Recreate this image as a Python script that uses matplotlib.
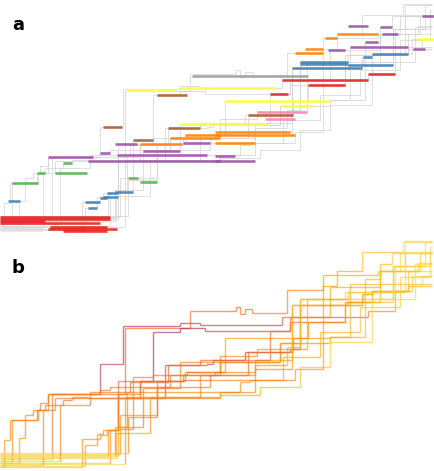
import numpy as np
import matplotlib
matplotlib.use("Agg")
import matplotlib.pyplot as plt
from matplotlib.collections import LineCollection

# Trajectories: step breakpoints (x) and plateau levels (y), pixel-like units,
# y grows downwards. Shared by both panels.
step_x = [
    [0, 52, 100, 123, 180, 200, 282, 368, 395, 412],
    [0, 110, 118, 125, 190, 236, 240, 245, 252, 287, 323, 337, 362, 403],
    [0, 43, 55, 118, 153, 180, 205, 270, 290, 308, 345, 372, 408],
    [0, 82, 100, 107, 118, 165, 207, 213, 245, 290, 300, 348, 380, 392],
    [0, 4, 10, 25, 33, 40, 48, 93, 140, 183, 215, 255, 292, 362, 372, 408],
    [0, 19, 25, 37, 45, 63, 72, 88, 220, 255, 295, 323, 337, 378, 420],
    [0, 128, 157, 185, 220, 280, 330, 350, 408],
    [0, 115, 143, 180, 225, 330, 365, 380, 418],
    [0, 85, 97, 103, 118, 133, 153, 170, 220, 257, 307, 348, 405],
    [0, 12, 38, 48, 100, 110, 170, 187, 225, 280, 300, 348, 393, 425],
    [0, 108, 118, 140, 183, 210, 248, 293, 308, 345, 363, 372, 408, 422],
    [0, 120, 128, 157, 210, 255, 292, 362, 393, 430],
    [0, 60, 90, 118, 130, 168, 200, 270, 290, 330, 380, 400],
    [0, 116, 150, 220, 260, 300, 330, 372, 415],
    [0, 118, 127, 220, 240, 250, 283, 320, 360, 400, 430],
    [0, 125, 200, 255, 287, 300, 345, 395, 405],
]
step_y = [
    [222, 157, 127, 89, 86, 88, 80, 74, 54, 39],
    [226, 193, 157, 91, 74, 70, 77, 72, 76, 53, 38, 34, 15, 4],
    [228, 173, 161, 144, 95, 91, 94, 94, 85, 85, 65, 54, 47],
    [230, 202, 198, 193, 161, 128, 127, 123, 115, 112, 68, 65, 27, 16],
    [230, 203, 183, 178, 173, 166, 157, 157, 144, 138, 135, 132, 68, 57, 54, 49],
    [226, 201, 183, 173, 168, 163, 160, 161, 155, 143, 132, 49, 38, 34, 16],
    [216, 180, 144, 135, 125, 106, 100, 47, 34],
    [218, 190, 151, 125, 101, 100, 42, 34, 26],
    [229, 208, 197, 193, 192, 140, 138, 138, 119, 112, 62, 55, 15],
    [224, 183, 173, 157, 153, 150, 138, 135, 125, 106, 62, 62, 29, 5],
    [220, 193, 161, 144, 143, 138, 115, 101, 85, 65, 57, 54, 49, 39],
    [217, 178, 178, 150, 143, 123, 68, 65, 29, 15],
    [224, 168, 155, 155, 145, 128, 123, 94, 80, 50, 34, 16],
    [221, 196, 160, 158, 150, 130, 105, 62, 27],
    [219, 190, 155, 155, 145, 143, 120, 95, 70, 40, 10],
    [227, 160, 138, 128, 110, 62, 55, 29, 5],
]
# colour value per plateau for panel b (0 = pale yellow, 1 = dark red)
step_c = [
    [0.15, 0.5, 0.85, 0.95, 0.9, 0.85, 0.65, 0.45, 0.3, 0.15],
    [0.15, 0.4, 0.5, 0.6, 0.55, 0.55, 0.55, 0.55, 0.5, 0.45, 0.35, 0.3, 0.2, 0.1],
    [0.15, 0.45, 0.5, 0.55, 1.0, 0.95, 0.8, 0.7, 0.65, 0.6, 0.4, 0.3, 0.2],
    [0.15, 0.4, 0.4, 0.45, 0.5, 0.8, 0.8, 0.85, 0.9, 0.7, 0.5, 0.4, 0.25, 0.15],
    [0.15, 0.35, 0.45, 0.45, 0.5, 0.5, 0.5, 0.5, 0.5, 0.5, 0.45, 0.45, 0.35, 0.3, 0.25, 0.2],
    [0.15, 0.35, 0.45, 0.5, 0.5, 0.5, 0.5, 0.5, 0.45, 0.45, 0.4, 0.35, 0.3, 0.25, 0.15],
    [0.1, 0.45, 0.5, 0.5, 0.45, 0.4, 0.3, 0.25, 0.15],
    [0.1, 0.45, 0.5, 0.45, 0.35, 0.3, 0.25, 0.2, 0.15],
    [0.1, 0.35, 0.4, 0.45, 0.45, 0.5, 0.5, 0.5, 0.45, 0.4, 0.3, 0.2, 0.1],
    [0.15, 0.4, 0.45, 0.5, 0.5, 0.5, 0.5, 0.5, 0.45, 0.35, 0.25, 0.2, 0.15, 0.1],
    [0.1, 0.35, 0.5, 0.55, 0.6, 0.6, 0.55, 0.45, 0.4, 0.3, 0.25, 0.2, 0.15, 0.1],
    [0.1, 0.35, 0.4, 0.5, 0.45, 0.35, 0.25, 0.2, 0.15, 0.1],
    [0.15, 0.45, 0.5, 0.5, 0.55, 0.6, 0.6, 0.55, 0.45, 0.3, 0.2, 0.1],
    [0.1, 0.3, 0.4, 0.3, 0.25, 0.2, 0.15, 0.1, 0.1],
    [0.1, 0.3, 0.45, 0.45, 0.4, 0.4, 0.3, 0.25, 0.2, 0.15, 0.1],
    [0.1, 0.4, 0.45, 0.4, 0.3, 0.2, 0.15, 0.1, 0.1],
]
x_end = 432

# Panel a: labelled stretches (colour name, x start, x end, level)
seg_color = (["red"] * 7 + ["lightgrey"] + ["blue"] * 7 + ["green"] * 6
             + ["purple"] * 17 + ["brown"] * 5 + ["orange"] * 10
             + ["yellow"] * 7 + ["pink"] * 2 + ["red"] * 4 + ["grey"]
             + ["blue"] * 6)
seg_x0 = [0, 0, 0, 48, 63, 50, 0,
          0,
          8, 85, 100, 107, 115, 88, 103,
          12, 37, 55, 63, 128, 140,
          48, 88, 115, 100, 117, 143, 183, 215, 215, 328, 350, 365, 348, 380, 382, 422, 413,
          103, 157, 168, 248, 133,
          140, 170, 185, 215, 215, 295, 305, 325, 337, 215,
          127, 180, 215, 180, 225, 280, 418,
          257, 265,
          270, 282, 368, 308,
          192,
          300, 292, 348, 363, 372, 300]
seg_x1 = [110, 110, 45, 117, 107, 107, 100,
          43,
          20, 100, 107, 118, 133, 97, 118,
          38, 45, 87, 72, 138, 157,
          93, 220, 137, 110, 207, 180, 210, 235, 255, 345, 408, 378, 368, 392, 398, 435, 425,
          122, 187, 200, 293, 153,
          182, 220, 220, 295, 255, 323, 323, 337, 378, 290,
          175, 215, 275, 268, 330, 312, 435,
          307, 295,
          288, 368, 395, 345,
          308,
          348, 362, 393, 372, 408, 348]
seg_y = [217, 219, 221, 229, 231, 227, 223,
         230,
         201, 202, 198, 193, 192, 208, 197,
         183, 173, 173, 163, 178, 182,
         157, 161, 144, 153, 155, 151, 143, 156, 161, 50, 47, 42, 26, 27, 34, 16, 49,
         127, 95, 128, 115, 140,
         144, 138, 135, 135, 143, 53, 49, 38, 34, 132,
         90, 88, 88, 124, 101, 106, 39,
         112, 119,
         94, 80, 74, 85,
         76,
         62, 68, 65, 57, 54, 64]

palette = {"red": "#e41a1c", "blue": "#377eb8", "green": "#4daf4a",
           "purple": "#984ea3", "orange": "#ff7f00", "yellow": "#ffff33",
           "brown": "#a65628", "pink": "#f781bf", "grey": "#999999",
           "lightgrey": "#e0e0e0"}


def step_segments(xs, ys):
    """Horizontal + vertical pieces of one step trajectory."""
    xs = list(xs) + [x_end]
    segs = []
    for i in range(len(ys)):
        segs.append(((xs[i], ys[i]), (xs[i + 1], ys[i])))
        if i + 1 < len(ys):
            segs.append(((xs[i + 1], ys[i]), (xs[i + 1], ys[i + 1])))
    return segs


W, H = 435, 471
fig = plt.figure(figsize=(W / 100, H / 100), dpi=100)
ax_a = fig.add_axes([0, 1 - 237 / H, 1, 237 / H])
ax_a.set_xlim(0, W)
ax_a.set_ylim(237, 0)
ax_b = fig.add_axes([0, 0, 1, 234 / H])
ax_b.set_xlim(0, W)
ax_b.set_ylim(234, 0)
for ax in (ax_a, ax_b):
    ax.axis("off")

# panel a: grey trajectories with coloured stretches on top
for xs, ys in zip(step_x, step_y):
    lc = LineCollection(step_segments(xs, ys), colors="#d2d2d2", linewidths=0.5)
    ax_a.add_collection(lc)
for c, x0, x1, y in zip(seg_color, seg_x0, seg_x1, seg_y):
    ax_a.plot([x0, x1], [y, y], color=palette[c], lw=1.9,
              solid_capstyle="butt", alpha=0.85)

# panel b: trajectories coloured along their length
cmap = plt.get_cmap("inferno")
for xs, ys, cs in zip(step_x, step_y, step_c):
    segs = step_segments(xs, ys)
    cols = []
    for i in range(len(ys)):
        cols.append(cmap(0.95 - 0.5 * cs[i]))
        if i + 1 < len(ys):
            cols.append(cmap(0.95 - 0.5 * cs[i + 1]))
    lc = LineCollection(segs, colors=cols, linewidths=1.0, alpha=0.65)
    ax_b.add_collection(lc)

fig.text(18 / W, 1 - 25 / H, "a", fontsize=13, fontweight="bold",
         ha="center", va="center")
fig.text(18 / W, 1 - 268 / H, "b", fontsize=13, fontweight="bold",
         ha="center", va="center")

fig.savefig("out.png", dpi=100)
